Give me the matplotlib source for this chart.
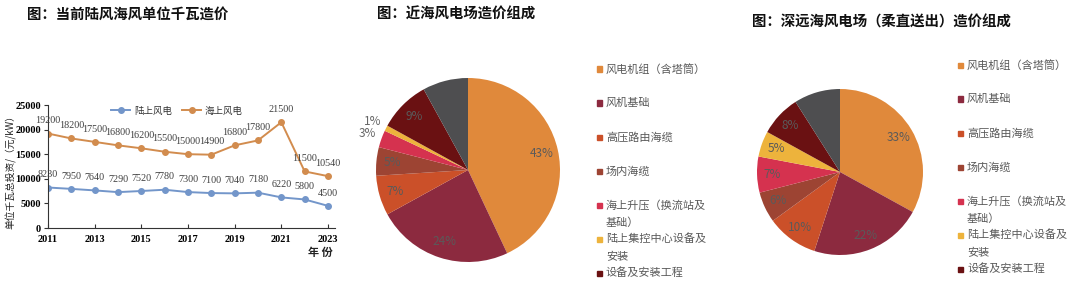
import matplotlib
matplotlib.use('Agg')
import matplotlib.pyplot as plt
import numpy as np
from matplotlib.patches import Rectangle

plt.rcParams['font.family'] = ['Noto Sans CJK SC', 'DejaVu Sans']

# ---- data ----
years = [2011, 2012, 2013, 2014, 2015, 2016, 2017, 2018, 2019, 2020, 2021, 2022, 2023]
onshore = [8230, 7950, 7640, 7290, 7520, 7780, 7300, 7100, 7040, 7180, 6220, 5800, 4500]
offshore = [19200, 18200, 17500, 16800, 16200, 15500, 15000, 14900, 16800, 17800, 21500, 11500, 10540]

pie_labels = ['风电机组（含塔筒）', '风机基础', '高压路由海缆', '场内海缆',
              '海上升压（换流站及\n基础）', '陆上集控中心设备及\n安装', '设备及安装工程']
near_share = [43, 24, 7, 5, 3, 1, 9, 8]   # last slice (grey) has no label
far_share = [33, 22, 10, 6, 7, 5, 8, 9]
pie_colors = ['#E0893B', '#8C2A3F', '#CB5029', '#9D4433', '#D5324F',
              '#EDB33C', '#6A1112', '#4E4E50']

W, H = 1080, 291
fig = plt.figure(figsize=(W / 100, H / 100), dpi=100)


def px(x, y):
    return x / W, 1 - y / H


def box(x0, y0, x1, y1):
    return [x0 / W, 1 - y1 / H, (x1 - x0) / W, (y1 - y0) / H]


# ---- titles ----
title_kw = dict(fontsize=10.4, fontweight='bold', color='#111111', va='center', ha='left')
fig.text(*px(27, 15), '图：当前陆风海风单位千瓦造价', **title_kw)
fig.text(*px(377, 15), '图：近海风电场造价组成', **title_kw)
fig.text(*px(752, 22), '图：深远海风电场（柔直送出）造价组成', **title_kw)

# ---- line chart ----
ax = fig.add_axes(box(48, 105, 335, 228))
blue = '#7396CA'
orange = '#D28C4E'
ax.plot(years, onshore, color=blue, lw=1.4, marker='o', ms=4, label='陆上风电')
ax.plot(years, offshore, color=orange, lw=1.4, marker='o', ms=4, label='海上风电')
for series in (onshore, offshore):
    for x, y in zip(years, series):
        ax.annotate(str(y), (x, y), xytext=(0, 6), textcoords='offset points',
                    ha='center', va='bottom', fontsize=7.3, color='#404040',
                    family='Liberation Serif')
ax.set_xlim(2011, 2023.3)
ax.set_ylim(0, 25000)
ax.set_xticks(range(2011, 2024, 2))
ax.set_yticks(range(0, 25001, 5000))
for lab in ax.get_xticklabels() + ax.get_yticklabels():
    lab.set_family('Liberation Serif')
    lab.set_fontweight('bold')
    lab.set_fontsize(7.5)
ax.tick_params(axis='x', direction='in', length=3, pad=5, color='#333333')
ax.tick_params(axis='y', direction='out', length=3, pad=2, color='#333333')
for s in ['top', 'right']:
    ax.spines[s].set_visible(False)
for s in ['left', 'bottom']:
    ax.spines[s].set_color('#333333')
    ax.spines[s].set_linewidth(0.8)
ax.legend(loc='center', bbox_to_anchor=(0.45, 0.95), ncol=2, frameon=False,
          fontsize=6.8, handlelength=2.0, columnspacing=1.1, handletextpad=0.4,
          labelcolor='#333333')
fig.text(*px(11, 170), '单位千瓦总投资/（元/kW）', rotation=90, fontsize=7,
         ha='center', va='center', color='#222222')
fig.text(*px(320, 252), '年 份', fontsize=8, fontweight='bold', ha='center',
         va='center', color='#222222')


# ---- pies ----
def draw_pie(rect, share, small_r):
    pax = fig.add_axes(rect)
    wedges, texts, autotexts = pax.pie(
        share, colors=pie_colors, startangle=90, counterclock=False,
        autopct='%d%%', pctdistance=0.82, radius=1,
        textprops=dict(fontsize=8.5, color='#5A5A5A'))
    autotexts[-1].set_text('')
    for w, t, v in zip(wedges, autotexts, share):
        if v < 4:
            # small slices get their label outside the pie
            ang = np.deg2rad((w.theta1 + w.theta2) / 2)
            t.set_position((small_r * np.cos(ang), small_r * np.sin(ang)))
            t.set_color('#666666')
    pax.set_xlim(-1, 1)
    pax.set_ylim(-1, 1)
    return pax


draw_pie(box(376, 78, 560, 262), near_share, 1.16)
draw_pie(box(757, 89, 923, 255), far_share, 1.16)


def draw_legend(x_sq, y0, step=34, line_h=18):
    for i, (lab, col) in enumerate(zip(pie_labels, pie_colors)):
        yc = y0 + i * step
        fig.patches.append(Rectangle(px(x_sq - 2.5, yc + 2.5), 5 / W, 5 / H,
                                     transform=fig.transFigure, color=col))
        for j, line in enumerate(lab.split('\n')):
            fig.text(*px(x_sq + 7, yc + j * line_h), line, fontsize=8,
                     color='#595959', va='center', ha='left')


draw_legend(599, 69)
draw_legend(960, 65)

fig.savefig('out.png', dpi=100)
